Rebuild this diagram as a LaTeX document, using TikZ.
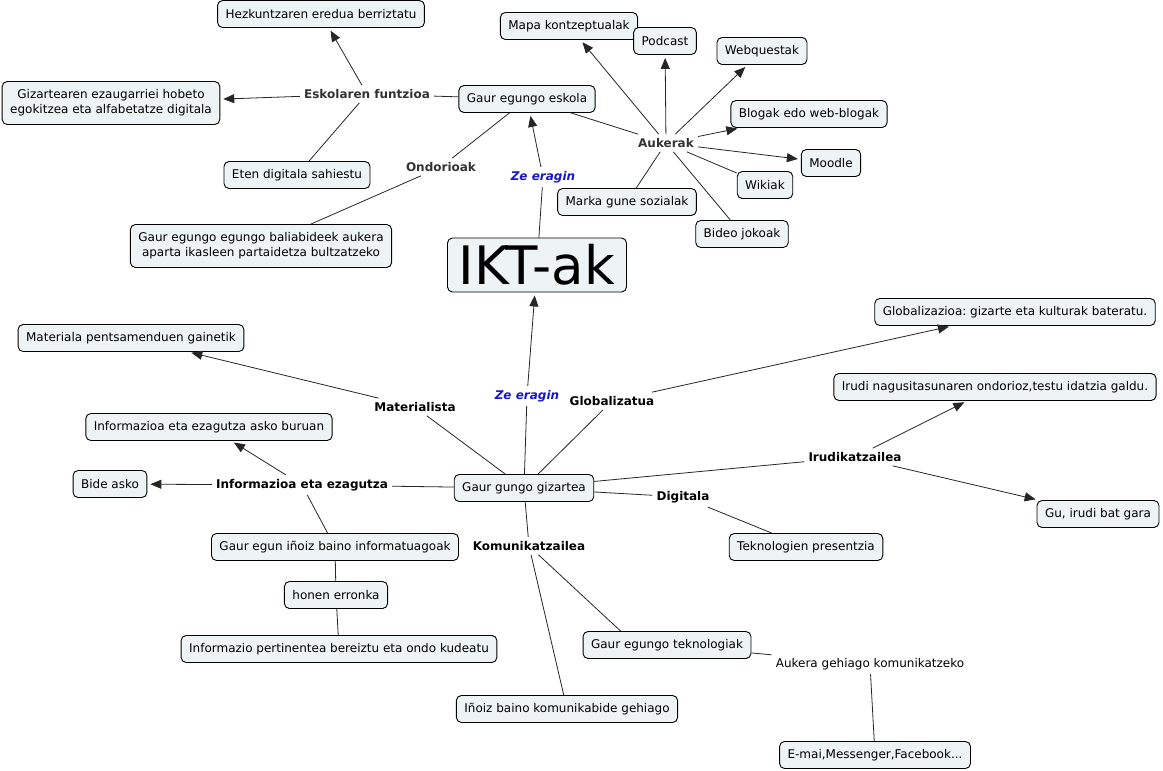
\documentclass[tikz,border=0pt]{standalone}
\usepackage{fontspec}
\setmainfont{DejaVu Sans}
\usetikzlibrary{arrows.meta,calc}
\frenchspacing
\definecolor{boxfill}{HTML}{EEF3F5}
\definecolor{labgray}{HTML}{333333}
\definecolor{zeblue}{RGB}{22,22,204}
\tikzset{
  box/.style={draw=black, fill=boxfill, rounded corners=5pt, line width=0.9pt,
    minimum height=27pt, inner xsep=8pt, inner ysep=2pt, align=center,
    font=\fontsize{12}{15}\selectfont},
  box2/.style={box, minimum height=43pt},
  lbl/.style={font=\bfseries\fontsize{12}{14}\selectfont, text=black, inner sep=4pt},
  lblg/.style={lbl, text=labgray},
  zeer/.style={font=\bfseries\itshape\fontsize{12}{14}\selectfont, text=zeblue, inner sep=4pt},
  plainlbl/.style={font=\fontsize{12}{14}\selectfont, text=black, inner sep=4pt},
  conn/.style={draw=black!85, line width=0.8pt},
  arr/.style={conn, -{Triangle[length=11pt,width=9pt]}, shorten >=3pt},
}
\begin{document}
\begin{tikzpicture}[x=1pt,y=-1pt]
\fill[white] (0,0) rectangle (1163,771);
\useasboundingbox (0,0) rectangle (1163,771);

% ---- upper cluster
\node[box] (hez) at (321,14) {Hezkuntzaren eredua berriztatu};
\node[box2] (giz) at (111,103) {Gizartearen ezaugarriei hobeto\\egokitzea eta alfabetatze digitala};
\node[lblg] (eskf) at (367,94) {Eskolaren funtzioa};
\node[box] (esk) at (527,99) {Gaur egungo eskola};
\node[box] (eten) at (297,175) {Eten digitala sahiestu};
\node[lblg] (ondo) at (441,167) {Ondorioak};
\node[box2] (bali) at (261,246) {Gaur egungo egungo baliabideek aukera\\aparta ikasleen partaidetza bultzatzeko};
\node[zeer] (ze1) at (543,177) {Ze eragin};
\node[box, minimum width=179pt, minimum height=54pt, font=\fontsize{53}{60}\selectfont, inner ysep=0pt] (ikt) at (537,265) {IKT-ak};
\node[box] (mapa) at (569,26) {Mapa kontzeptualak};
\node[box] (pod) at (665,41) {Podcast};
\node[box] (web) at (762,51) {Webquestak};
\node[box] (blog) at (809,114) {Blogak edo web-blogak};
\node[lblg] (auk) at (666,143) {Aukerak};
\node[box] (mood) at (831,163) {Moodle};
\node[box] (wiki) at (765,185) {Wikiak};
\node[box] (marka) at (627,202) {Marka gune sozialak};
\node[box] (bideo) at (742,234) {Bideo jokoak};

% ---- lower cluster
\node[box] (mat) at (131,338) {Materiala pentsamenduen gainetik};
\node[lbl] (matl) at (415,407) {Materialista};
\node[zeer] (ze2) at (527,396) {Ze eragin};
\node[lbl] (globl) at (612,401) {Globalizatua};
\node[box] (glob) at (1015,312) {Globalizazioa: gizarte eta kulturak bateratu.};
\node[box] (irudi) at (995,387) {Irudi nagusitasunaren ondorioz,testu idatzia galdu.};
\node[lbl] (irl) at (855,457) {Irudikatzailea};
\node[box] (gu) at (1098,514) {Gu, irudi bat gara};
\node[lbl] (digl) at (683,497) {Digitala};
\node[box] (tekp) at (806,547) {Teknologien presentzia};
\node[box] (gizt) at (524,488) {Gaur gungo gizartea};
\node[box] (infa) at (209,427) {Informazioa eta ezagutza asko buruan};
\node[box] (bide) at (110,484) {Bide asko};
\node[lbl] (infl) at (302,485) {Informazioa eta ezagutza};
\node[box] (inoiz) at (335,547) {Gaur egun iñoiz baino informatuagoak};
\node[lbl] (koml) at (529,546) {Komunikatzailea};
\node[box] (honen) at (336,595) {honen erronka};
\node[box] (pert) at (339,649) {Informazio pertinentea bereiztu eta ondo kudeatu};
\node[box] (tek) at (667,645) {Gaur egungo teknologiak};
\node[plainlbl] (aukg) at (870,664) {Aukera gehiago komunikatzeko};
\node[box] (kom) at (567,709) {Iñoiz baino komunikabide gehiago};
\node[box] (emai) at (875,755) {E-mai,Messenger,Facebook...};

% ---- connectors upper
\draw[conn] (esk) -- (eskf);
\draw[arr] (eskf) -- (hez);
\draw[arr] (eskf) -- (giz);
\draw[conn] (eskf) -- (eten);
\draw[conn] (esk) -- (ondo);
\draw[conn] (ondo) -- (bali);
\draw[conn] (ikt) -- (ze1);
\draw[arr] (ze1) -- (esk);
\draw[conn] (esk) -- (auk);
\draw[arr] (auk) -- (mapa);
\draw[arr] (auk) -- (pod);
\draw[arr] (auk) -- (web);
\draw[arr] (auk) -- (blog);
\draw[arr] (auk) -- (mood);
\draw[conn] (auk) -- (wiki);
\draw[conn] (auk) -- (marka);
\draw[conn] (auk) -- (bideo);

% ---- connectors lower
\draw[conn] (gizt) -- (ze2);
\draw[arr] (ze2) -- (ikt);
\draw[conn] (gizt) -- (matl);
\draw[arr] (matl) -- (mat);
\draw[conn] (gizt) -- (globl);
\draw[arr] (globl) -- (glob);
\draw[conn] (gizt) -- (irl);
\draw[arr] (irl) -- (irudi);
\draw[arr] (irl) -- (gu);
\draw[conn] (gizt) -- (digl);
\draw[conn] (digl) -- (tekp);
\draw[conn] (gizt) -- (infl);
\draw[arr] (infl) -- (infa);
\draw[arr] (infl) -- (bide);
\draw[conn] (infl) -- (inoiz);
\draw[conn] (inoiz) -- (honen);
\draw[conn] (honen) -- (pert);
\draw[conn] (gizt) -- (koml);
\draw[conn] (koml) -- (kom);
\draw[conn] (koml) -- ($(tek.north west)+(38,0)$);
\draw[conn] (tek) -- (aukg);
\draw[conn] (aukg) -- (emai);
\end{tikzpicture}
\end{document}
